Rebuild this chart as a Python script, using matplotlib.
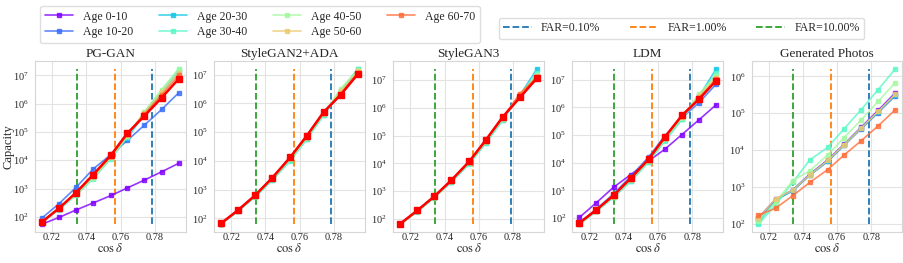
import matplotlib
matplotlib.use("Agg")
import matplotlib.pyplot as plt
from matplotlib.lines import Line2D
import seaborn as sns
import numpy as np

# * Dados
cos_delta = [0.714, 0.724, 0.734, 0.744, 0.7545, 0.764, 0.774, 0.784, 0.794]
idades = ["Age 0-10", "Age 10-20", "Age 20-30", "Age 30-40",
          "Age 40-50", "Age 50-60", "Age 60-70", "Age 70+"]
paineis = ["PG-GAN", "StyleGAN2+ADA", "StyleGAN3", "LDM", "Generated Photos"]
far_labels = ["FAR=0.10%", "FAR=1.00%", "FAR=10.00%"]
far_x = [0.7785, 0.7566, 0.7343]
far_cores = ["tab:blue", "tab:orange", "tab:green"]

# PG-GAN
pg_0_10 = [55, 95, 175, 310, 570, 1050, 2000, 3900, 7800]
pg_10_20 = [90, 290, 1100, 4900, 16000, 50000, 175000, 620000, 2.4e6]
pg_20_30 = [68, 195, 640, 2500, 12500, 62000, 430000, 2.3e6, 1.35e7]
pg_30_40 = [62, 180, 580, 2200, 11500, 68000, 500000, 2.9e6, 1.7e7]
pg_40_50 = [66, 190, 620, 2400, 12500, 72000, 520000, 3.1e6, 1.65e7]
pg_50_60 = [70, 200, 660, 2700, 13500, 78000, 480000, 2.5e6, 1.25e7]
pg_60_70 = [68, 200, 690, 2900, 14500, 84000, 430000, 2.0e6, 1.0e7]
pg_70 = [65, 200, 720, 3100, 15500, 90000, 370000, 1.6e6, 7.5e6]

# StyleGAN2+ADA
s2_0_10 = [66, 195, 640, 2600, 13000, 72000, 490000, 2.0e6, 1.1e7]
s2_10_20 = [66, 192, 630, 2550, 12800, 70000, 470000, 2.1e6, 1.2e7]
s2_20_30 = [64, 180, 580, 2200, 10500, 58000, 400000, 2.6e6, 1.6e7]
s2_30_40 = [63, 178, 570, 2150, 10200, 56000, 390000, 2.8e6, 1.55e7]
s2_40_50 = [65, 185, 600, 2350, 11500, 62000, 430000, 3.3e6, 1.45e7]
s2_50_60 = [66, 190, 620, 2450, 12200, 66000, 460000, 2.6e6, 1.3e7]
s2_60_70 = [67, 193, 635, 2550, 12800, 70000, 480000, 2.2e6, 1.15e7]
s2_70 = [67, 195, 640, 2600, 13500, 73000, 500000, 2.0e6, 1.05e7]

# StyleGAN3
s3_0_10 = [66, 198, 645, 2480, 11800, 68000, 470000, 2.4e6, 1.25e7]
s3_10_20 = [66, 196, 640, 2450, 11600, 66000, 460000, 2.5e6, 1.3e7]
s3_20_30 = [64, 185, 590, 2200, 10000, 55000, 380000, 2.9e6, 2.6e7]
s3_30_40 = [64, 182, 585, 2150, 9800, 54000, 370000, 2.8e6, 1.8e7]
s3_40_50 = [65, 188, 605, 2300, 10800, 60000, 410000, 3.0e6, 1.6e7]
s3_50_60 = [65, 192, 620, 2380, 11200, 63000, 440000, 3.2e6, 1.4e7]
s3_60_70 = [66, 196, 635, 2450, 11600, 66000, 460000, 3.3e6, 1.3e7]
s3_70 = [66, 200, 650, 2500, 12000, 69000, 480000, 2.4e6, 1.2e7]

# LDM
ld_0_10 = [105, 360, 1300, 3700, 11500, 31000, 105000, 360000, 1.25e6]
ld_10_20 = [68, 210, 750, 3200, 16000, 95000, 420000, 1.5e6, 7.0e6]
ld_20_30 = [62, 180, 580, 2200, 11000, 65000, 380000, 2.5e6, 2.5e7]
ld_30_40 = [60, 175, 560, 2100, 10500, 62000, 370000, 2.7e6, 1.7e7]
ld_40_50 = [63, 185, 600, 2350, 11500, 70000, 430000, 3.1e6, 1.4e7]
ld_50_60 = [65, 192, 630, 2550, 12500, 76000, 470000, 2.6e6, 1.2e7]
ld_60_70 = [66, 196, 650, 2650, 13000, 80000, 500000, 2.2e6, 1.05e7]
ld_70 = [66, 200, 660, 2750, 13500, 85000, 520000, 2.0e6, 9.4e6]

# Generated Photos (sem grupo 70+)
gp_0_10 = [150, 470, 840, 2250, 5500, 14500, 42000, 120000, 360000]
gp_10_20 = [140, 460, 800, 2100, 5000, 13500, 38000, 105000, 300000]
gp_20_30 = [110, 440, 820, 2150, 5200, 14000, 40000, 110000, 320000]
gp_30_40 = [100, 330, 1350, 5500, 12000, 38000, 125000, 440000, 1.6e6]
gp_40_50 = [125, 390, 1500, 2800, 7500, 22000, 66000, 210000, 680000]
gp_50_60 = [145, 490, 830, 2150, 5300, 14000, 40000, 112000, 330000]
gp_60_70 = [175, 270, 590, 1350, 3000, 7400, 18000, 46000, 125000]

dados = [
    [pg_0_10, pg_10_20, pg_20_30, pg_30_40, pg_40_50, pg_50_60, pg_60_70, pg_70],
    [s2_0_10, s2_10_20, s2_20_30, s2_30_40, s2_40_50, s2_50_60, s2_60_70, s2_70],
    [s3_0_10, s3_10_20, s3_20_30, s3_30_40, s3_40_50, s3_50_60, s3_60_70, s3_70],
    [ld_0_10, ld_10_20, ld_20_30, ld_30_40, ld_40_50, ld_50_60, ld_60_70, ld_70],
    [gp_0_10, gp_10_20, gp_20_30, gp_30_40, gp_40_50, gp_50_60, gp_60_70, None],
]

# * Estilo
sns.set_style("whitegrid", {"grid.color": "#e3e3e3", "axes.edgecolor": "#d6d6d6"})
plt.rcParams["font.family"] = ["Liberation Serif", "DejaVu Serif"]
plt.rcParams["mathtext.fontset"] = "stix"

cores = plt.cm.rainbow(np.linspace(0, 1, len(idades)))

fig, axes = plt.subplots(1, 5, figsize=(9.04, 2.63), dpi=100)
fig.subplots_adjust(left=0.0387, right=0.998, top=0.768, bottom=0.118, wspace=0.19)

for ax, titulo, grupos in zip(axes, paineis, dados):
    todos = []
    for i, serie in enumerate(grupos):
        if serie is None:
            continue
        todos += serie
        if i == len(idades) - 1:
            ax.plot(cos_delta, serie, color=cores[i], marker="s", lw=1.8,
                    markersize=4.3, label="_nolegend_", zorder=4)
        else:
            ax.plot(cos_delta, serie, color=cores[i], marker="s", lw=1.2,
                    markersize=3, alpha=0.8, label=idades[i], zorder=3)
    for x, c in zip(far_x, far_cores):
        ax.vlines(x, min(todos), max(todos), colors=c, linestyles="--", lw=1.3, zorder=2)
    ax.set_yscale("log")
    # so as decadas dentro dos limites
    y0, y1 = ax.get_ylim()
    ax.set_yticks([10.0**k for k in range(int(np.ceil(np.log10(y0))), int(np.floor(np.log10(y1))) + 1)])
    ax.set_ylim(y0, y1)
    ax.set_title(titulo, fontsize=9.5, pad=3)
    ax.set_xlabel(r"$\cos\delta$", fontsize=9, va="center")
    ax.xaxis.set_label_coords(0.5, -0.095)
    ax.set_xticks([0.72, 0.74, 0.76, 0.78])
    ax.tick_params(axis="x", labelsize=7.5, length=0, pad=1)
    ax.tick_params(axis="y", labelsize=7.5, length=0, pad=4.5)
    ax.minorticks_off()

axes[0].set_ylabel("Capacity", fontsize=9, va="center")
axes[0].yaxis.set_label_coords(-0.178, 0.5)

# Legendas
h_idade = [Line2D([], [], color=cores[i], marker="s", lw=1.2, markersize=3, alpha=0.8)
           for i in range(len(idades) - 1)]
fig.legend(h_idade, idades[:-1], ncol=4, fontsize=8.5, loc="upper left",
           bbox_to_anchor=(0.038, 1.0), frameon=True, edgecolor="#d6d6d6",
           columnspacing=2.2, handlelength=2.4, borderpad=0.4, labelspacing=0.3)
h_far = [Line2D([], [], color=c, ls="--", lw=1.3) for c in far_cores]
fig.legend(h_far, far_labels, ncol=3, fontsize=8.5, loc="upper left",
           bbox_to_anchor=(0.545, 0.955), frameon=True, edgecolor="#d6d6d6",
           columnspacing=2.5, handlelength=2.4, borderpad=0.4)

plt.savefig("out.png", dpi=100)
